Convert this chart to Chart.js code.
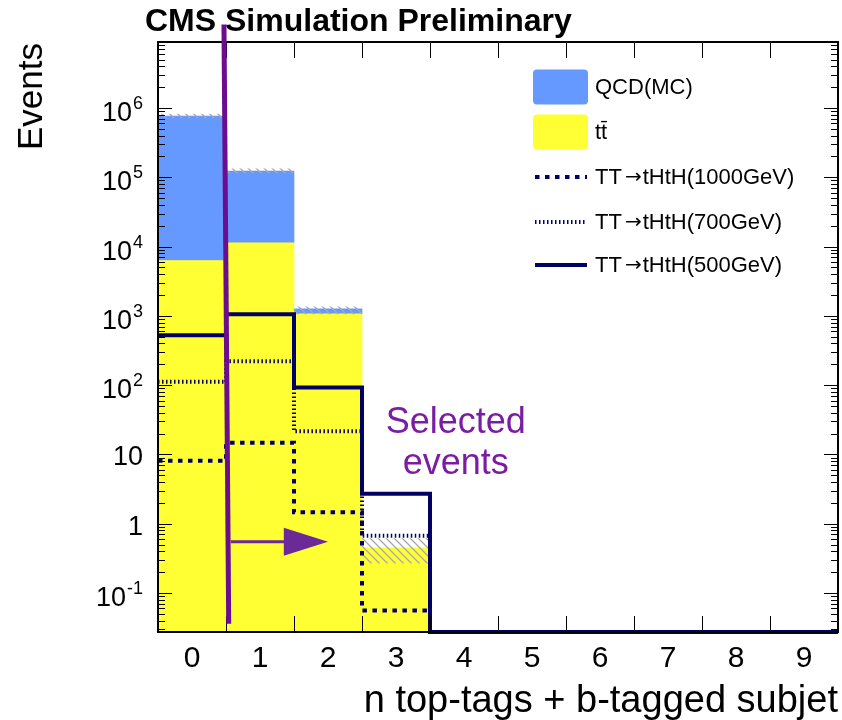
<!DOCTYPE html>
<html>
<head>
<meta charset="utf-8">
<script src="https://cdn.jsdelivr.net/npm/chart.js@4.4.1/dist/chart.umd.min.js"></script>
<style>
  html, body { margin: 0; padding: 0; background: #ffffff; }
  canvas { display: block; }
</style>
</head>
<body>
<canvas id="c" width="842" height="720"></canvas>
<script>
// ---- histogram contents (per bin of n top-tags + b-tagged subjet) ----
const bins = ['0', '1', '2', '3', '4', '5', '6', '7', '8', '9'];

// stacked backgrounds
const ttbar = [6300, 11300, 1070, 0.45, 0, 0, 0, 0, 0, 0];
const qcd   = [760000, 112000, 190, 0, 0, 0, 0, 0, 0, 0];

// background uncertainty band (lower / upper edge)
const bkgErrLow  = [720000, 115000, 1070, 0.27, null, null, null, null, null, null];
const bkgErrHigh = [820000, 132000, 1350, 0.61, null, null, null, null, null, null];

// signal templates T T -> tH tH
const sig1000 = [8.1, 14.7, 1.46, 0.056, 0, 0, 0, 0, 0, 0];
const sig700  = [112, 222, 21.7, 0.67, 0, 0, 0, 0, 0, 0];
const sig500  = [526, 1058, 92.7, 2.7, 0, 0, 0, 0, 0, 0];

// y axis labels
const yTickValues = [0.1, 1, 10, 100, 1e3, 1e4, 1e5, 1e6];
const yTickLabels = ['10^-1', '1', '10', '10^2', '10^3', '10^4', '10^5', '10^6'];

const Y_MIN = 0.0274, Y_MAX = 8.96e6;
const FONT = '"Liberation Sans", Arial, Helvetica, sans-serif';
const NAVY = '#000066';

// histogram outline: one point per low bin edge plus the last upper edge
function stepPoints(vals) {
  const pts = vals.map((v, i) => ({ x: i - 0.5, y: v > 0 ? v : Y_MIN }));
  pts.push({ x: vals.length - 0.5, y: pts[pts.length - 1].y });
  return pts;
}

const canvas = document.getElementById('c');
const ctx = canvas.getContext('2d');

// grey "\\\\" hatching used for the background uncertainty
function hatchPattern() {
  const s = 8;
  const c = document.createElement('canvas');
  c.width = s; c.height = s;
  const g = c.getContext('2d');
  g.strokeStyle = '#a8a8a8';
  g.lineWidth = 1.3;
  g.beginPath();
  g.moveTo(-1, -1); g.lineTo(s + 1, s + 1);
  g.moveTo(-1, s - 1); g.lineTo(1, s + 1);
  g.moveTo(s - 1, -1); g.lineTo(s + 1, 1);
  g.stroke();
  return ctx.createPattern(c, 'repeat');
}

const legendItems = [
  { text: ['QCD(MC)'], kind: 'box', color: '#6699ff' },
  { text: ['tt\u0304'], kind: 'box', color: '#ffff33' },
  { text: ['TT', '\u2192', 'tHtH(1000GeV)'], kind: 'line', dash: [4.5, 5.5] },
  { text: ['TT', '\u2192', 'tHtH(700GeV)'], kind: 'line', dash: [1.5, 2.5] },
  { text: ['TT', '\u2192', 'tHtH(500GeV)'], kind: 'line', dash: [] }
];

function line(c, x0, y0, x1, y1) {
  c.beginPath(); c.moveTo(x0, y0); c.lineTo(x1, y1); c.stroke();
}

const decor = {
  id: 'decor',
  afterDatasetsDraw(chart) {
    const { ctx: c, chartArea: a, scales } = chart;
    const ys = scales.y, xl = scales.xl, xc = scales.x;
    c.save();

    // ---- frame and ticks ----
    c.strokeStyle = '#000';
    c.lineWidth = 1;
    for (let e = -2; e <= 7; e++) {
      for (let m = 1; m <= 9; m++) {
        const v = m * Math.pow(10, e);
        if (v < Y_MIN || v > Y_MAX) continue;
        const py = Math.round(ys.getPixelForValue(v)) + 0.5;
        const len = m === 1 ? 14 : 7;
        line(c, a.left, py, a.left + len, py);
        line(c, a.right, py, a.right - len, py);
      }
    }
    for (let i = 1; i < bins.length; i++) {
      const px = Math.round(xl.getPixelForValue(i - 0.5)) + 0.5;
      line(c, px, a.bottom, px, a.bottom - 16);
      line(c, px, a.top, px, a.top + 16);
    }
    c.lineWidth = 2;
    c.strokeRect(a.left, a.top, a.right - a.left, a.bottom - a.top);

    // ---- y tick labels with superscripts ----
    c.fillStyle = '#000';
    c.textBaseline = 'alphabetic';
    yTickValues.forEach((v, i) => {
      const py = ys.getPixelForValue(v);
      const lab = yTickLabels[i];
      const xr = a.left - 15;
      if (lab.includes('^')) {
        const [base, exp] = lab.split('^');
        c.font = '18px ' + FONT;
        const we = c.measureText(exp).width;
        c.textAlign = 'left';
        c.fillText(exp, xr - we, py + 1);
        c.font = '27px ' + FONT;
        c.textAlign = 'right';
        c.fillText(base, xr - we - 1, py + 13);
      } else {
        c.font = '27px ' + FONT;
        c.textAlign = 'right';
        c.fillText(lab, xr, py + 11);
      }
    });

    // ---- x tick labels ----
    c.font = '30px ' + FONT;
    c.textAlign = 'center';
    bins.forEach((b, i) => {
      c.fillText(b, xc.getPixelForValue(i), a.bottom + 35);
    });

    // ---- axis titles ----
    c.font = '38px ' + FONT;
    c.textAlign = 'right';
    c.fillText('n top-tags + b-tagged subjet', a.right, a.bottom + 80);

    c.save();
    c.translate(42, 43);
    c.rotate(-Math.PI / 2);
    c.font = '35px ' + FONT;
    c.textAlign = 'right';
    c.fillText('Events', 0, 0);
    c.restore();

    // ---- header ----
    c.font = 'bold 32px ' + FONT;
    c.textAlign = 'left';
    c.fillText('CMS Simulation Preliminary', 145, 31);

    // ---- legend ----
    const lx = a.left + 375, lw = 55;
    const rowY = [87, 132, 177, 222, 265];
    legendItems.forEach((it, i) => {
      const cy = rowY[i];
      if (it.kind === 'box') {
        c.fillStyle = it.color;
        c.beginPath();
        c.roundRect(lx, cy - 17.5, lw, 35, 4);
        c.fill();
      } else {
        c.strokeStyle = NAVY;
        c.lineWidth = 4;
        c.setLineDash(it.dash);
        line(c, lx + 2, cy, lx + lw - 1, cy);
        c.setLineDash([]);
      }
      c.fillStyle = '#000';
      c.textAlign = 'left';
      c.textBaseline = 'middle';
      let tx = lx + 62;
      it.text.forEach(part => {
        if (part === '\u2192') {
          c.font = '20px "DejaVu Sans", sans-serif';
          tx += 3;
          c.fillText(part, tx, cy + 1);
          tx += c.measureText(part).width + 1;
        } else {
          c.font = '22px ' + FONT;
          c.fillText(part, tx, cy + 1);
          tx += c.measureText(part).width;
        }
      });
    });
    c.textBaseline = 'alphabetic';

    // ---- selection annotation ----
    const P = (xv, yv) => [xl.getPixelForValue(xv), ys.getPixelForValue(yv)];
    const [cx0, cy0] = P(0.47, 1.6e7);
    const [cx1, cy1] = P(0.54, 0.036);
    c.strokeStyle = '#6a0d8e';
    c.lineWidth = 5;
    line(c, cx0, cy0, cx1, cy1);

    const [ax0, ay] = P(0.57, 0.55);
    const [axh] = P(1.35, 0.55);
    const [axt] = P(2.0, 0.55);
    c.strokeStyle = '#6b2a98';
    c.fillStyle = '#6b2a98';
    c.lineWidth = 3;
    line(c, ax0, ay, axh + 2, ay);
    c.beginPath();
    c.moveTo(axh, ay - 14);
    c.lineTo(axt, ay);
    c.lineTo(axh, ay + 14);
    c.closePath();
    c.fill();

    c.fillStyle = '#7a1da3';
    c.font = '36px ' + FONT;
    c.textAlign = 'center';
    const [tx, ty1] = P(3.88, 20.6);
    const [, ty2] = P(3.88, 5.26);
    c.fillText('Selected', tx, ty1);
    c.fillText('events', tx, ty2);

    c.restore();
  }
};

new Chart(ctx, {
  type: 'bar',
  data: {
    labels: bins,
    datasets: [
      {
        label: 'tt\u0304', data: ttbar.map(v => v > 0 ? v : null),
        backgroundColor: '#ffff33', borderWidth: 0, stack: 'bkg', order: 2, grouped: false,
        xAxisID: 'x', yAxisID: 'y', barPercentage: 1, categoryPercentage: 1
      },
      {
        label: 'QCD(MC)', data: qcd.map(v => v > 0 ? v : null),
        backgroundColor: '#6699ff', borderWidth: 0, stack: 'bkg', order: 3, grouped: false,
        xAxisID: 'x', yAxisID: 'y', barPercentage: 1, categoryPercentage: 1
      },
      {
        label: 'bkg. uncertainty',
        data: bkgErrLow.map((lo, i) => lo == null ? null : [lo, bkgErrHigh[i]]),
        backgroundColor: hatchPattern(), borderWidth: 0, order: 1, grouped: false,
        xAxisID: 'x', yAxisID: 'yb', barPercentage: 1, categoryPercentage: 1
      },
      {
        type: 'line', label: 'TT\u2192tHtH(1000GeV)', data: stepPoints(sig1000),
        borderColor: NAVY, borderWidth: 4, borderDash: [4.5, 5.5], stepped: 'before',
        pointRadius: 0, fill: false, clip: false, order: 0.3, xAxisID: 'xl', yAxisID: 'yb'
      },
      {
        type: 'line', label: 'TT\u2192tHtH(700GeV)', data: stepPoints(sig700),
        borderColor: NAVY, borderWidth: 4, borderDash: [1.5, 2.5], stepped: 'before',
        pointRadius: 0, fill: false, clip: false, order: 0.2, xAxisID: 'xl', yAxisID: 'yb'
      },
      {
        type: 'line', label: 'TT\u2192tHtH(500GeV)', data: stepPoints(sig500),
        borderColor: NAVY, borderWidth: 4, stepped: 'before', borderJoinStyle: 'miter',
        pointRadius: 0, fill: false, clip: false, order: 0.1, xAxisID: 'xl', yAxisID: 'yb'
      }
    ]
  },
  options: {
    responsive: false,
    devicePixelRatio: 1,
    animation: false,
    layout: { padding: { left: 158, right: 4, top: 42, bottom: 88 } },
    plugins: { legend: { display: false }, tooltip: { enabled: false }, title: { display: false } },
    scales: {
      x: { type: 'category', offset: true, display: false, stacked: true },
      xl: { type: 'linear', min: -0.5, max: 9.5, bounds: 'data', offset: false, display: false },
      y: { type: 'logarithmic', min: Y_MIN, max: Y_MAX, stacked: true, display: false },
      yb: { type: 'logarithmic', min: Y_MIN, max: Y_MAX, display: false }
    }
  },
  plugins: [decor]
});
</script>
</body>
</html>
